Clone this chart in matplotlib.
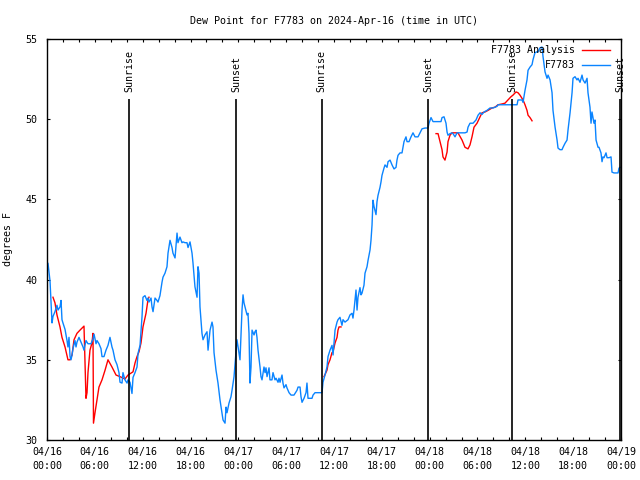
import numpy as np
import matplotlib
matplotlib.use('Agg')
import matplotlib.pyplot as plt
from matplotlib.ticker import MultipleLocator

# hours since 2024-04-16 00:00 UTC, dew point in F
blue_hours = [0.0, 0.13, 0.25, 0.38, 0.5, 0.63, 0.75, 1.0, 1.25, 1.38, 1.63, 1.76, 1.88, 2.0, 2.26, 2.51,
              2.63, 2.76, 2.89, 3.01, 3.14, 3.26, 3.51, 3.64, 3.76, 4.01, 4.26, 4.52, 4.64, 4.89, 5.14, 5.52,
              5.77, 5.9, 6.15, 6.27, 6.52, 6.77, 6.9, 7.15, 7.4, 7.65, 7.9, 8.15, 8.28, 8.53, 8.78, 9.03,
              9.16, 9.41, 9.53, 9.78, 10.04, 10.16, 10.41, 10.66, 10.79, 11.04, 11.29, 11.42, 11.67,
              11.92, 12.04, 12.29, 12.54, 12.67, 12.79, 13.05, 13.17, 13.3, 13.55, 13.8, 13.92, 14.17, 14.43,
              14.55, 14.8, 15.05, 15.18, 15.43, 15.68, 15.8, 16.06, 16.31, 16.43, 16.68, 16.93, 17.06, 17.31,
              17.56, 17.69, 17.94, 18.19, 18.31, 18.56, 18.82, 18.94, 19.07, 19.19, 19.44, 19.57, 19.82, 20.07,
              20.2, 20.45, 20.7, 20.82, 20.95, 21.2, 21.45, 21.7, 21.95, 22.08, 22.33, 22.46, 22.58, 22.83,
              23.08, 23.21, 23.46, 23.71, 23.83, 24.08, 24.21, 24.46, 24.59, 24.71, 24.84, 25.09, 25.21, 25.34,
              25.46, 25.59, 25.72, 25.97, 26.09, 26.22, 26.34, 26.47, 26.72, 26.84, 26.97, 27.22, 27.35, 27.47,
              27.6, 27.85, 27.97, 28.22, 28.35, 28.6, 28.73, 28.98, 29.1, 29.23, 29.48, 29.6, 29.73, 29.98,
              30.1, 30.36, 30.61, 30.98, 31.36, 31.49, 31.74, 31.86, 31.99, 32.24, 32.49, 32.61, 32.74, 33.24,
              33.37, 33.62, 34.5, 34.62, 34.87, 35.12, 35.25, 35.5, 35.75, 35.88, 36.13, 36.38, 36.5, 36.75,
              37.0, 37.13, 37.38, 37.76, 38.01, 38.26, 38.38, 38.51, 38.76, 38.89, 39.01, 39.26, 39.39, 39.51,
              39.76, 39.89, 40.14, 40.27, 40.52, 40.64, 40.77, 40.89, 41.02, 41.27, 41.39, 41.52, 41.77, 41.9,
              42.02, 42.27, 42.4, 42.65, 42.78, 43.03, 43.28, 43.53, 43.78, 43.9, 44.03, 44.28, 44.53, 44.78,
              45.03, 45.16, 45.41, 45.66, 45.91, 46.16, 46.54, 46.79, 47.04, 47.42, 47.79, 47.92, 48.17, 48.42,
              48.92, 49.42, 49.55, 49.8, 50.05, 50.18, 50.3, 50.55, 50.8, 50.93, 51.18, 51.43, 52.06, 52.43,
              52.69, 52.81, 53.06, 53.44, 53.81, 54.07, 54.32, 54.57, 54.82, 55.19, 55.57, 55.95, 56.45, 56.57,
              57.7, 58.96, 59.08, 59.58, 59.71, 59.96, 60.21, 60.34, 60.59, 60.84, 60.96, 61.21, 61.46, 61.59,
              61.84, 62.09, 62.22, 62.47, 62.72, 62.85, 63.1, 63.35, 63.47, 63.73, 63.98, 64.1, 64.35, 64.6,
              64.73, 64.98, 65.23, 65.36, 65.61, 65.86, 65.98, 66.23, 66.48, 66.61, 66.86, 67.11, 67.24, 67.49,
              67.74, 67.86, 68.11, 68.24, 68.36, 68.61, 68.74, 68.87, 69.12, 69.24, 69.49, 69.62, 69.74, 69.87,
              70.12, 70.25, 70.5, 70.75, 70.87, 71.12, 71.63, 71.75, 71.88]
blue_dewpt = [41.1, 41.0, 40.5, 39.9, 38.6, 37.3, 37.7, 38.0, 38.4, 38.1, 38.3, 38.7, 37.5, 37.3, 36.9, 36.2,
              35.8, 36.4, 35.2, 35.0, 35.3, 35.7, 36.2, 35.8, 36.1, 36.4, 36.1, 35.8, 35.6, 36.2, 36.0, 36.0,
              36.3, 36.6, 36.0, 36.2, 36.0, 35.7, 35.2, 35.2, 35.6, 35.9, 36.4, 35.8, 35.6, 35.0, 34.7, 34.2,
              33.6, 33.55, 34.2, 33.75, 33.55, 33.75, 33.6, 32.9, 33.9, 34.2, 34.55, 35.4, 35.9,
              37.7, 38.9, 39.0, 38.7, 38.85, 38.6, 38.85, 38.3, 38.0, 38.85, 38.7, 38.6, 39.0, 39.85,
              40.15, 40.4, 40.8, 41.65, 42.45, 42.0, 41.65, 41.35, 42.9, 42.3, 42.65, 42.3, 42.35, 42.3,
              42.3, 42.0, 42.35, 41.65, 41.05, 39.55, 38.9, 40.8, 40.4, 38.3, 36.65, 36.25, 36.55, 36.75,
              35.6, 36.85, 37.35, 37.05, 35.45, 34.35, 33.55, 32.5, 31.7, 31.25, 31.05, 32.05, 31.7, 32.3,
              32.7, 33.1, 33.95, 35.5, 36.25, 35.45, 35.0, 38.1, 39.05, 38.55, 38.3, 37.8, 37.9, 36.65,
              33.55, 34.55, 36.85, 36.55, 36.75, 36.85, 36.4, 35.6, 34.55, 33.95, 33.75, 34.55, 34.2, 34.5,
              33.95, 34.5, 33.75, 33.75, 34.2, 33.75, 33.85, 33.6, 33.85, 33.6, 34.05, 33.55, 33.25, 33.45,
              33.25, 32.95, 32.8, 32.8, 33.1, 33.3, 33.3, 32.7, 32.35, 32.6, 32.95, 33.55, 32.6, 32.6,
              32.8, 32.95, 32.95, 33.6, 34.05, 34.55, 35.2, 35.6, 35.9, 35.3, 36.85, 37.35, 37.5, 37.65,
              37.15, 37.5, 37.35, 37.5, 37.8, 37.9, 37.6, 38.1, 39.35, 38.1, 38.9, 39.5, 39.05, 39.15,
              39.65, 40.4, 40.8, 41.2, 41.85, 42.45, 43.4, 44.95, 44.55, 44.05, 44.85, 45.25, 45.75, 46.1,
              46.5, 46.95, 47.15, 47.0, 47.35, 47.45, 47.15, 46.9, 47.0, 47.45, 47.75, 47.9, 47.9, 48.6,
              48.9, 48.6, 48.6, 48.9, 49.15, 48.9, 48.9, 49.15, 49.4, 49.45, 49.45, 49.75, 50.1, 49.85,
              49.85, 49.85, 50.1, 50.15, 49.75, 49.2, 49.0, 49.1, 49.15, 49.1, 48.9, 49.15, 49.15, 49.15,
              49.2, 49.5, 49.75, 49.75, 49.95, 50.25, 50.4, 50.3, 50.45, 50.55, 50.7, 50.7, 50.8, 50.9,
              50.9, 50.9, 51.2, 51.2, 51.05, 51.8, 52.45, 53.05, 53.25, 53.4, 53.7, 54.15, 54.2, 54.2,
              54.45, 54.5, 53.9, 52.95, 52.55, 52.75, 52.45, 51.65, 50.55, 49.5, 48.7, 48.2, 48.1, 48.1,
              48.25, 48.5, 48.7, 49.35, 50.4, 51.65, 52.55, 52.65, 52.45, 52.55, 52.3, 52.75, 52.45, 52.25,
              52.55, 51.65, 50.75, 49.75, 50.45, 49.75, 49.95, 48.7, 48.25, 48.25, 47.9, 47.35, 47.65, 47.6,
              47.9, 47.6, 47.6, 47.65, 46.7, 46.65, 46.65, 46.95, 47.0]

# analysis series, gaps where there is no analysis
red_hours = [0.75, 1.0, 1.25, 1.63, 1.88, 2.26, 2.63, 2.89, 3.14, 3.39, 3.76, 4.14, 4.64, 4.77, 4.89, 5.02,
             5.14, 5.39, 5.64, 5.77, 5.83, 6.02, 6.27, 6.52, 6.9, 7.28, 7.65, 8.15, 8.66, 9.16, 9.78, 10.16,
             10.79, 11.04, 11.29, 11.54, 11.79, 12.04, 12.42, 12.67, 12.79,
             20.0,
             34.75, 35.12, 35.25, 35.5, 35.75, 35.88, 36.13, 36.38, 36.5, 36.63, 36.88,
             42.0,
             48.8, 49.05, 49.3, 49.55, 49.67, 49.92, 50.18, 50.3, 50.55, 50.8, 51.55, 52.06, 52.43, 52.81,
             53.06, 53.31, 53.56, 53.94, 54.32, 54.57, 54.94, 55.32, 55.82, 56.2, 56.57, 57.07, 57.45, 57.82,
             58.2, 58.45, 58.83, 59.08, 59.33, 59.71, 59.96, 60.21, 60.34, 60.59, 60.84]
red_dewpt = [38.9, 38.55, 37.8, 37.05, 36.4, 35.8, 35.0, 35.0, 35.3, 36.25, 36.65, 36.85, 37.1, 34.8, 32.6, 32.95,
             34.2, 35.6, 36.05, 36.65, 31.05, 31.7, 32.5, 33.3, 33.75, 34.35, 35.0, 34.55, 34.05, 33.95, 33.8, 34.05,
             34.25, 34.8, 35.2, 35.5, 36.05, 37.05, 37.9, 38.75, 38.9,
             np.nan,
             33.95, 34.35, 34.7, 35.0, 35.45, 35.5, 36.05, 36.4, 36.85, 37.05, 37.05,
             np.nan,
             49.1, 49.1, 48.6, 48.1, 47.65, 47.45, 47.95, 48.6, 49.0, 49.15, 49.15, 48.7, 48.25, 48.15,
             48.4, 48.9, 49.5, 49.75, 50.15, 50.4, 50.45, 50.55, 50.7, 50.75, 50.9, 50.95, 51.0, 51.2,
             51.4, 51.5, 51.7, 51.65, 51.5, 51.2, 50.9, 50.55, 50.25, 50.1, 49.9]

sun_hours = [10.32, 23.77, 34.46, 47.83, 58.33, 71.9]
sun_labels = ['Sunrise', 'Sunset', 'Sunrise', 'Sunset', 'Sunrise', 'Sunset']
sun_line_top = 51.26

xtick_hours = list(range(0, 73, 6))
xtick_labels = ['04/16\n00:00', '04/16\n06:00', '04/16\n12:00', '04/16\n18:00',
                '04/17\n00:00', '04/17\n06:00', '04/17\n12:00', '04/17\n18:00',
                '04/18\n00:00', '04/18\n06:00', '04/18\n12:00', '04/18\n18:00',
                '04/19\n00:00']

plt.rcParams['font.family'] = ['DejaVu Sans Mono']
plt.rcParams['font.size'] = 7.2

fig = plt.figure(figsize=(6.4, 4.8), dpi=100)
ax = fig.add_axes([47/640, 40/480, 574/640, 401/480])

ax.plot(red_hours, red_dewpt, color='#ff0000', lw=1.0, label='F7783 Analysis')
ax.plot(blue_hours, blue_dewpt, color='#0a84ff', lw=1.0, label='F7783')

ax.vlines(sun_hours, 30, sun_line_top, color='black', lw=1.2)
for h, lab in zip(sun_hours, sun_labels):
    ax.text(h, 51.7, lab, rotation=90, ha='center', va='bottom', clip_on=False)

ax.set_xlim(0, 72)
ax.set_ylim(30, 55)
ax.set_xticks(xtick_hours)
ax.set_xticklabels(xtick_labels, linespacing=1.45)
ax.xaxis.set_minor_locator(MultipleLocator(2))
ax.set_yticks([30, 35, 40, 45, 50, 55])
ax.tick_params(which='both', direction='in', top=True, right=True, length=2.2, width=0.8, color='black')
ax.tick_params(axis='x', pad=5)
ax.tick_params(axis='y', pad=7)
for s in ax.spines.values():
    s.set_linewidth(1.0)

ax.set_ylabel('degrees F', labelpad=9)
ax.set_title('Dew Point for F7783 on 2024-Apr-16 (time in UTC)', fontsize=7.2, pad=11)

ax.legend(loc='upper right', bbox_to_anchor=(0.98, 0.985), frameon=False, markerfirst=False,
          handlelength=2.8, handletextpad=0.7, labelspacing=0.5, borderpad=0, borderaxespad=0)

fig.savefig('out.png', dpi=100)
